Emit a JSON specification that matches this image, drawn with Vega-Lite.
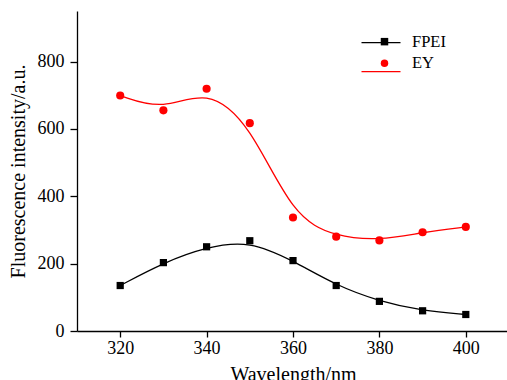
{
  "$schema": "https://vega.github.io/schema/vega-lite/v6.json",
  "width": 432,
  "height": 320,
  "autosize": "none",
  "padding": {"left": 77, "top": 11, "right": 0, "bottom": 49},
  "background": "white",
  "config": {
    "view": {"stroke": null},
    "font": "Liberation Serif",
    "axis": {
      "grid": false,
      "domainColor": "#000000",
      "domainWidth": 1.3,
      "tickColor": "#000000",
      "tickWidth": 1.3,
      "labelColor": "#000000",
      "labelFont": "Liberation Serif",
      "labelFontSize": 18,
      "titleFont": "Liberation Serif",
      "titleFontSize": 20,
      "titleFontWeight": "normal",
      "titleColor": "#000000"
    },
    "legend": {"labelFont": "Liberation Serif", "labelColor": "#000000"}
  },
  "data": {
    "values": [
      {"wl": 320, "v": 135, "s": "FPEI"},
      {"wl": 330, "v": 203, "s": "FPEI"},
      {"wl": 340, "v": 250, "s": "FPEI"},
      {"wl": 350, "v": 268, "s": "FPEI"},
      {"wl": 360, "v": 209, "s": "FPEI"},
      {"wl": 370, "v": 135, "s": "FPEI"},
      {"wl": 380, "v": 88, "s": "FPEI"},
      {"wl": 390, "v": 60, "s": "FPEI"},
      {"wl": 400, "v": 49, "s": "FPEI"},
      {"wl": 320, "v": 699, "s": "EY"},
      {"wl": 330, "v": 655, "s": "EY"},
      {"wl": 340, "v": 719, "s": "EY"},
      {"wl": 350, "v": 617, "s": "EY"},
      {"wl": 360, "v": 337, "s": "EY"},
      {"wl": 370, "v": 280, "s": "EY"},
      {"wl": 380, "v": 269, "s": "EY"},
      {"wl": 390, "v": 293, "s": "EY"},
      {"wl": 400, "v": 309, "s": "EY"}
    ]
  },
  "encoding": {
    "x": {
      "field": "wl",
      "type": "quantitative",
      "scale": {"domain": [310, 410], "nice": false, "zero": false},
      "axis": {"values": [320, 340, 360, 380, 400], "tickSize": 6, "labelPadding": 2, "titlePadding": 7, "title": "Wavelength/nm"}
    },
    "y": {
      "field": "v",
      "type": "quantitative",
      "scale": {"domain": [0, 950], "nice": false},
      "axis": {"values": [0, 200, 400, 600, 800], "tickSize": 7, "labelPadding": 6, "titlePadding": 9, "title": "Fluorescence intensity/a.u."}
    }
  },
  "resolve": {"legend": {"color": "independent", "shape": "independent", "stroke": "independent"}},
  "layer": [
    {
      "mark": {"type": "line", "interpolate": "basis", "strokeWidth": 1.3},
      "encoding": {
        "stroke": {
          "field": "s", "type": "nominal",
          "scale": {"domain": ["FPEI", "EY"], "range": ["#000000", "#ff0000"]},
          "legend": {
            "orient": "none", "legendX": 283.5, "legendY": 11.2, "title": null,
            "symbolType": "stroke", "symbolSize": 1521, "symbolStrokeWidth": 1.3,
            "labelExpr": "''", "labelOpacity": 0, "labelFontSize": 16.5, "rowPadding": -26, "padding": 0
          }
        }
      }
    },
    {
      "mark": {"type": "point", "filled": true, "opacity": 1},
      "encoding": {
        "color": {
          "field": "s", "type": "nominal",
          "scale": {"domain": ["FPEI", "EY"], "range": ["#000000", "#ff0000"]},
          "legend": {
            "orient": "none", "legendX": 299.25, "legendY": 22.4, "title": null,
            "symbolSize": 56, "labelFontSize": 16.5, "labelOffset": 19.25, "rowPadding": 4.5, "padding": 0,
            "encode": {"symbols": {"update": {
              "shape": {"signal": "datum.value === 'FPEI' ? 'square' : 'circle'"},
              "opacity": {"value": 1}
            }}}
          }
        },
        "shape": {
          "field": "s", "type": "nominal",
          "scale": {"domain": ["FPEI", "EY"], "range": ["square", "circle"]},
          "legend": null
        },
        "size": {
          "field": "s", "type": "nominal",
          "scale": {"domain": ["FPEI", "EY"], "range": [52, 66]},
          "legend": null
        }
      }
    }
  ]
}
